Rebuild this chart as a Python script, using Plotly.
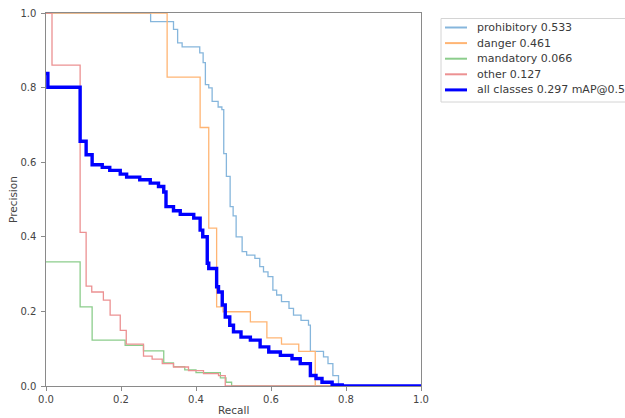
import plotly.graph_objects as go

# Step curves: precision level held from recall[i] to recall[i+1]
prohibitory_recall = [0, 0.279, 0.340, 0.351, 0.363, 0.410, 0.419, 0.425, 0.434, 0.443, 0.459, 0.469,
                      0.474, 0.481, 0.491, 0.499, 0.507, 0.523, 0.535, 0.557, 0.570, 0.580, 0.592,
                      0.605, 0.615, 0.628, 0.648, 0.660, 0.680, 0.700, 0.705, 0.740, 0.752, 0.765,
                      0.780, 1.0]
prohibitory_precision = [1.0, 0.977, 0.956, 0.920, 0.909, 0.893, 0.867, 0.808, 0.799, 0.763, 0.748, 0.741,
                         0.623, 0.562, 0.481, 0.456, 0.400, 0.360, 0.351, 0.342, 0.320, 0.306, 0.293,
                         0.257, 0.244, 0.226, 0.208, 0.190, 0.176, 0.163, 0.093, 0.078, 0.060, 0.028,
                         0.0, 0.0]

danger_recall = [0, 0.323, 0.411, 0.434, 0.455, 0.472, 0.545, 0.589, 0.628, 0.674, 0.718, 1.0]
danger_precision = [1.0, 0.828, 0.693, 0.423, 0.212, 0.199, 0.172, 0.129, 0.112, 0.093, 0.0, 0.0]

mandatory_recall = [0, 0.091, 0.123, 0.211, 0.260, 0.314, 0.340, 0.370, 0.400, 0.465, 0.480, 0.495, 1.0]
mandatory_precision = [0.333, 0.212, 0.123, 0.109, 0.094, 0.062, 0.052, 0.043, 0.036, 0.022, 0.010, 0.0, 0.0]

other_recall = [0, 0.016, 0.091, 0.107, 0.122, 0.153, 0.171, 0.198, 0.214, 0.260, 0.283, 0.310,
                0.340, 0.380, 0.420, 0.460, 0.478, 1.0]
other_precision = [1.0, 0.860, 0.412, 0.268, 0.252, 0.230, 0.190, 0.149, 0.112, 0.080, 0.072, 0.060,
                   0.051, 0.041, 0.033, 0.028, 0.0, 0.0]

all_recall = [0, 0.005, 0.091, 0.107, 0.123, 0.150, 0.170, 0.198, 0.215, 0.250, 0.278, 0.300, 0.314,
              0.320, 0.340, 0.358, 0.394, 0.411, 0.418, 0.430, 0.434, 0.455, 0.460, 0.470, 0.478,
              0.490, 0.500, 0.520, 0.545, 0.571, 0.594, 0.625, 0.656, 0.678, 0.705, 0.720, 0.736,
              0.763, 0.790, 1.0]
all_precision = [0.838, 0.801, 0.656, 0.620, 0.593, 0.586, 0.578, 0.568, 0.560, 0.553, 0.544, 0.535,
                 0.520, 0.481, 0.470, 0.460, 0.450, 0.418, 0.400, 0.329, 0.315, 0.266, 0.252, 0.217,
                 0.185, 0.163, 0.145, 0.131, 0.123, 0.105, 0.091, 0.082, 0.073, 0.060, 0.028, 0.020,
                 0.010, 0.003, 0.0, 0.0]

labels = ["prohibitory 0.533", "danger 0.461", "mandatory 0.066", "other 0.127", "all classes 0.297 mAP@0.5"]
colors = ["#86b6dc", "#ffb574", "#8ccd8c", "#ec9192", "#0000ff"]
widths = [1.3, 1.3, 1.3, 1.3, 3.4]
tick_vals = [0, 0.2, 0.4, 0.6, 0.8, 1.0]

series = [
    (prohibitory_recall, prohibitory_precision),
    (danger_recall, danger_precision),
    (mandatory_recall, mandatory_precision),
    (other_recall, other_precision),
    (all_recall, all_precision),
]

W, H = 625, 418
ML, MT = 46, 13
PW, PH = 375, 373
MR, MB = W - ML - PW, H - MT - PH


def px2x(px):  # page pixel -> paper x
    return (px - ML) / PW


def py2y(py):  # page pixel -> paper y
    return (MT + PH - py) / PH


fig = go.Figure()
for (r, p), name, c, w in zip(series, labels, colors, widths):
    fig.add_trace(go.Scatter(x=r, y=p, mode="lines", name=name, showlegend=False,
                             line=dict(color=c, width=w, shape="hv")))

tick_font = dict(family="DejaVu Sans", size=10, color="#444")
title_font = dict(family="DejaVu Sans", size=10.5, color="#444")
axis_common = dict(
    range=[0, 1], tickvals=tick_vals, tickformat=".1f",
    showgrid=False, zeroline=False, showline=True, mirror=True,
    linecolor="#8a8a8a", linewidth=1.3, ticks="outside", ticklen=3.5,
    tickcolor="#8a8a8a", tickwidth=1, tickfont=tick_font, automargin=False,
    ticklabeloverflow="allow",
)

# Legend drawn as a compact box (matplotlib-like spacing)
shapes = [dict(type="rect", xref="paper", yref="paper",
               x0=px2x(441), x1=px2x(640), y0=py2y(102), y1=py2y(18.5),
               line=dict(color="#d4d4d4", width=1), fillcolor="white", layer="above")]
annotations = []
for i, (name, c, w) in enumerate(zip(labels, colors, widths)):
    yc = 27.5 + 15.6 * i
    shapes.append(dict(type="line", xref="paper", yref="paper",
                       x0=px2x(445), x1=px2x(467), y0=py2y(yc), y1=py2y(yc),
                       line=dict(color=c, width=2 if w < 2 else 3), layer="above"))
    annotations.append(dict(text=name, xref="paper", yref="paper", x=px2x(475), y=py2y(yc),
                            xanchor="left", yanchor="middle", showarrow=False,
                            font=dict(family="DejaVu Sans", size=11, color="#3a3a3a")))

# Axis titles
annotations.append(dict(text="Recall", xref="paper", yref="paper", x=px2x(233), y=py2y(410),
                        xanchor="center", yanchor="middle", showarrow=False, font=title_font))
annotations.append(dict(text="Precision", xref="paper", yref="paper", x=px2x(12.5), y=py2y(199.5),
                        xanchor="center", yanchor="middle", showarrow=False, textangle=-90,
                        font=title_font))

fig.update_layout(
    width=W, height=H,
    margin=dict(l=ML, r=MR, t=MT, b=MB),
    paper_bgcolor="white", plot_bgcolor="white",
    font=tick_font,
    xaxis=dict(**axis_common),
    yaxis=dict(**axis_common, ticklabelstandoff=3),
    shapes=shapes, annotations=annotations,
    showlegend=False,
)

fig.write_html(
    "out.html",
    config={"displayModeBar": False},
    post_script="document.body.style.margin='0';document.documentElement.style.overflow='hidden';",
)
